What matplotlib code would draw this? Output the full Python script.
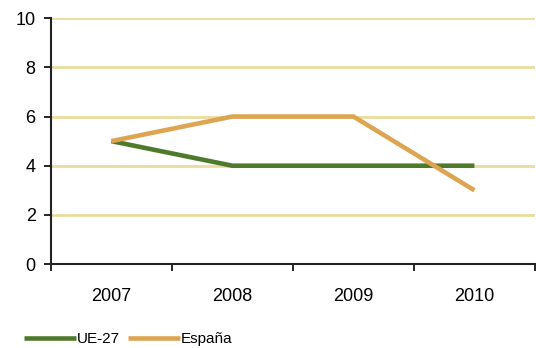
import matplotlib.pyplot as plt
import numpy as np

plt.rcParams['font.family'] = ['Liberation Sans', 'DejaVu Sans']

years = ['2007', '2008', '2009', '2010']
ue27 = [5, 4, 4, 4]
espana = [5, 6, 6, 3]

fig = plt.figure(figsize=(5.36, 3.48), dpi=100)
ax = fig.add_axes([0.095, 0.241, 0.903, 0.707])

x = np.arange(len(years)) + 0.5
ax.plot(x, ue27, color='#4F7A2C', lw=3.3, label='UE-27', solid_capstyle='butt')
ax.plot(x, espana, color='#DDA552', lw=3.3, label='España', solid_capstyle='butt')

ax.set_xlim(0, 4)
ax.set_ylim(0, 10)
ax.set_yticks(range(0, 11, 2))
for v in range(2, 11, 2):
    ax.axhline(v, color='#EADC9E', lw=2, zorder=0)

ax.set_xticks(range(0, 5))
ax.set_xticklabels([])
ax.set_xticks(x, minor=True)
ax.set_xticklabels(years, minor=True)
ax.tick_params(axis='x', which='minor', length=0, pad=17, labelsize=13)
ax.tick_params(axis='x', which='major', length=5, width=1.2)
ax.tick_params(axis='y', length=5, width=1.2, labelsize=13, pad=6)

for s in ['top', 'right']:
    ax.spines[s].set_visible(False)
for s in ['left', 'bottom']:
    ax.spines[s].set_linewidth(1.5)
    ax.spines[s].set_color('#222222')

fig.legend(loc='lower left', bbox_to_anchor=(0.02, -0.035), ncol=2, frameon=False,
           fontsize=11, handlelength=3.4, handletextpad=0.05, columnspacing=0.5)

fig.savefig('out.png', dpi=100)
